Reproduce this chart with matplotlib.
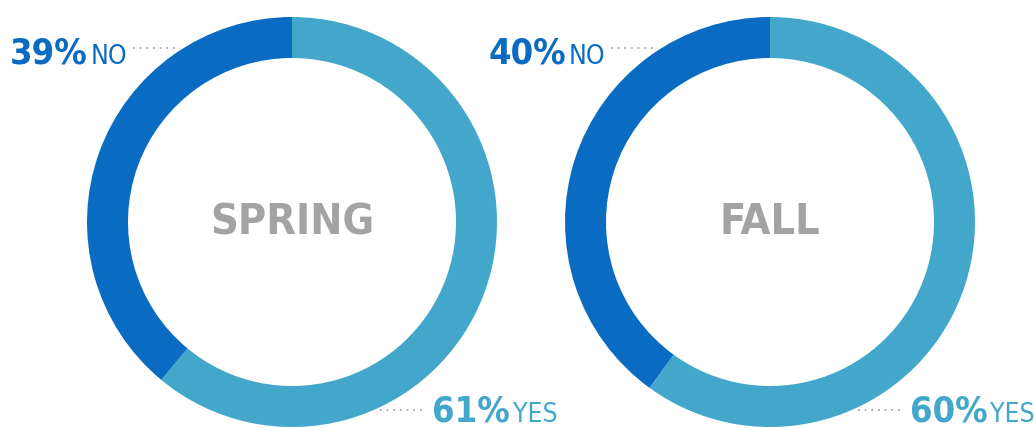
import matplotlib.pyplot as plt

seasons = ["SPRING", "FALL"]
yes_pct = [61, 60]
no_pct = [39, 40]

dark = "#0a6bc2"
light = "#42a7ca"
grey = "#a3a3a3"
font = dict(family="DejaVu Sans", fontstretch="condensed")

fig = plt.figure(figsize=(10.34, 4.28), dpi=100)
ax = fig.add_axes([0, 0, 1, 1])

centers = [(292, 206), (770, 206)]
R = 205

for (cx, cy), name, y, n in zip(centers, seasons, yes_pct, no_pct):
    ax.pie([y, n], colors=[light, dark], startangle=90, counterclock=False,
           center=(cx, cy), radius=R, wedgeprops=dict(width=41, linewidth=0))
    ax.text(cx, cy, name, ha="center", va="center", fontsize=31,
            fontweight="bold", color=grey, **font)

    # NO label top-left
    t1 = ax.text(cx - 282, 365, f"{n}%", ha="left", va="baseline", fontsize=26,
                 fontweight="bold", color=dark, **font)
    ax.annotate("NO", xy=(1, 0), xycoords=t1, xytext=(2, 0),
                textcoords="offset points", ha="left", va="bottom",
                fontsize=19, color=dark, **font)
    ax.plot([cx - 159, cx - 112], [380, 380], color="#999999", lw=1.2,
            ls=(0, (1, 3)))

    # YES label bottom-right
    t2 = ax.text(cx + 140, 7, f"{y}%", ha="left", va="baseline", fontsize=26,
                 fontweight="bold", color=light, **font)
    ax.annotate("YES", xy=(1, 0), xycoords=t2, xytext=(2, 0),
                textcoords="offset points", ha="left", va="bottom",
                fontsize=19, color=light, **font)
    ax.plot([cx + 88, cx + 133], [18, 18], color="#999999", lw=1.2,
            ls=(0, (1, 3)))

ax.set_xlim(0, 1034)
ax.set_ylim(0, 428)
ax.set_aspect("auto")
ax.axis("off")
fig.savefig("out.png", dpi=100)
